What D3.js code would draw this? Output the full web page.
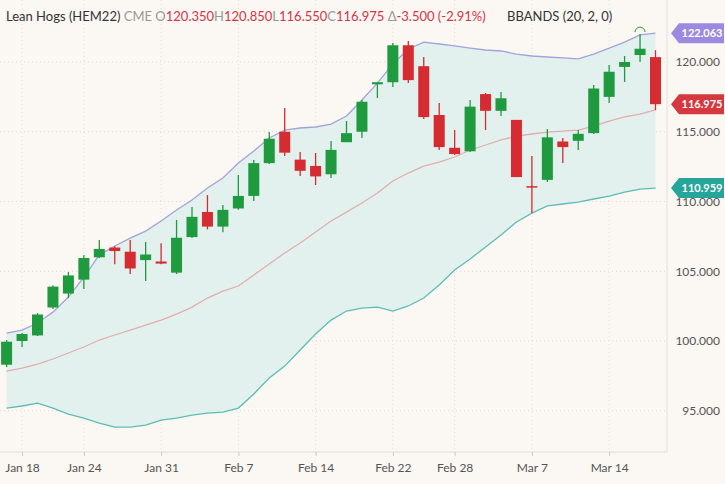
<!DOCTYPE html>
<html><head><meta charset="utf-8">
<script src="https://cdn.jsdelivr.net/npm/d3@7"></script>
<style>body{margin:0;background:#fbf7f2}svg{display:block;font-family:Lato,"Open Sans",sans-serif}</style>
</head><body><svg id="c" width="725" height="484"></svg>
<script>
const open  = [98.3,100.0,100.4,102.4,103.4,104.4,106.0,106.7,106.4,105.8,105.7,104.9,107.45,109.25,108.2,109.5,110.4,112.75,115.0,113.0,112.55,111.95,114.25,115.0,118.4,118.55,121.2,119.7,116.2,113.85,113.6,117.7,116.5,115.85,111.1,111.55,114.3,114.35,114.9,117.5,119.65,120.5,120.35];
const high  = [100.07,100.57,102.0,104.0,104.94,106.16,107.24,106.8,107.24,107.1,107.0,108.67,109.6,110.46,109.75,111.9,112.97,114.98,116.7,113.55,113.48,114.34,115.77,117.28,118.57,121.36,121.5,120.36,117.06,115.12,117.28,117.78,117.85,115.85,113.26,115.2,114.55,115.12,118.35,119.78,120.43,122.0,120.85];
const low   = [98.13,99.57,100.36,102.29,103.08,103.72,105.95,105.5,104.8,104.3,105.5,104.8,107.38,108.0,107.8,109.4,110.03,112.68,113.26,111.83,111.18,111.68,114.26,114.55,117.42,118.2,118.5,115.91,113.69,113.33,113.55,115.12,116.13,111.75,109.17,111.4,112.76,113.69,114.84,117.06,118.57,120.0,116.55];
const close = [99.95,100.5,101.9,103.9,104.7,105.95,106.6,106.45,105.2,106.2,105.55,107.4,108.9,108.2,109.4,110.4,112.75,114.5,113.5,112.2,111.8,113.7,114.9,117.15,118.55,121.2,118.7,116.05,113.9,113.4,116.8,116.5,117.4,111.75,111.0,114.6,113.9,114.85,118.1,119.3,120.0,120.95,116.975];
const upper = [100.57,100.78,101.29,102.07,103.15,104.58,106.16,106.81,107.38,107.88,108.6,109.39,110.11,110.97,111.68,112.76,113.62,114.55,115.12,115.27,115.34,115.55,116.13,117.28,118.49,119.86,120.93,121.43,121.29,121.15,121.0,120.86,120.79,120.57,120.43,120.36,120.29,120.22,120.57,121.0,121.43,121.94,122.063];
const middle= [97.84,98.06,98.35,98.71,99.14,99.57,100.07,100.43,100.78,101.14,101.5,101.93,102.43,103.08,103.58,103.94,104.73,105.52,106.31,107.02,107.81,108.6,109.24,109.89,110.61,111.47,112.04,112.54,112.83,113.19,113.69,114.05,114.41,114.69,114.84,114.98,115.05,115.12,115.41,115.77,116.06,116.27,116.56];
const lower = [95.19,95.34,95.55,95.19,94.76,94.47,94.12,93.83,93.83,93.97,94.33,94.47,94.69,94.83,94.9,95.19,96.2,97.34,98.2,99.35,100.5,101.5,102.15,102.36,102.43,102.15,102.51,103.08,104.01,105.09,105.88,106.74,107.6,108.53,109.17,109.68,109.82,109.96,110.18,110.39,110.68,110.89,110.959];
const xTickIdx = [1,5,10,15,20,25,29,34,39];
const xTickLabels = ["Jan 18","Jan 24","Jan 31","Feb 7","Feb 14","Feb 22","Feb 28","Mar 7","Mar 14"];
const yTicks = [95,100,105,110,115,120];

const svg = d3.select("#c");
const W=725,H=484, plotR=667, axisY=452;
const x = d3.scaleLinear().domain([0,42]).range([6.6,655.5]);
const y = d3.scaleLinear().domain([90,125]).range([480.5,-7.75]);
const idx = d3.range(open.length);
const G="#1f9a3f", R="#d52b31";

svg.append("rect").attr("width",W).attr("height",H).attr("fill","#fbf7f2");
svg.append("g").selectAll("line").data(xTickIdx).join("line")
 .attr("x1",d=>x(d)).attr("x2",d=>x(d)).attr("y1",0).attr("y2",axisY)
 .attr("stroke","#e3ddd6").attr("stroke-dasharray","1,3");
svg.append("g").selectAll("line").data(yTicks).join("line")
 .attr("x1",0).attr("x2",plotR).attr("y1",d=>y(d)).attr("y2",d=>y(d))
 .attr("stroke","#ddd7cf").attr("stroke-dasharray","1,3");
svg.append("path").datum(idx).attr("fill","#dff0ec").attr("opacity",0.9)
 .attr("d",d3.area().x(i=>x(i)).y0(i=>y(lower[i])).y1(i=>y(upper[i])));
const ln=(arr,c)=>svg.append("path").datum(idx).attr("fill","none").attr("stroke",c).attr("stroke-width",1.3)
 .attr("d",d3.line().x(i=>x(i)).y(i=>y(arr[i])));
ln(upper,"#a3a3dc"); ln(middle,"#e2aeae"); ln(lower,"#5dbdb6");
svg.append("line").attr("x1",0).attr("x2",plotR).attr("y1",axisY).attr("y2",axisY).attr("stroke","#ddd");
svg.append("line").attr("x1",plotR).attr("x2",plotR).attr("y1",0).attr("y2",axisY).attr("stroke","#e4e0da");
const xa = svg.append("g").attr("transform",`translate(0,${axisY})`)
 .call(d3.axisBottom(x).tickValues(xTickIdx).tickFormat((d,i)=>xTickLabels[i]).tickSize(4));
xa.select(".domain").remove();
xa.selectAll("line").attr("stroke","#ccc");
xa.selectAll("text").attr("fill","#555").attr("font-size",12).attr("dy","1.1em").attr("font-family","Lato");
const ya = svg.append("g").attr("transform",`translate(720,0)`)
 .call(d3.axisRight(y).tickValues(yTicks).tickFormat(d3.format(".3f")).tickSize(0).tickPadding(0));
ya.select(".domain").remove();
ya.selectAll("text").attr("fill","#555").attr("font-size",12).attr("text-anchor","end").attr("font-family","Lato");
const cg = svg.append("g");
cg.selectAll("line").data(idx).join("line")
 .attr("x1",i=>x(i)).attr("x2",i=>x(i)).attr("y1",i=>y(high[i])).attr("y2",i=>y(low[i]))
 .attr("stroke",i=>close[i]>=open[i]?G:R).attr("stroke-width",1.3);
cg.selectAll("rect").data(idx).join("rect")
 .attr("x",i=>x(i)-5.5).attr("width",11)
 .attr("y",i=>y(Math.max(open[i],close[i])))
 .attr("height",i=>Math.max(1.5,Math.abs(y(open[i])-y(close[i]))))
 .attr("fill",i=>close[i]>=open[i]?G:R);
const hi = d3.maxIndex(high);
svg.append("path").attr("fill","none").attr("stroke",G).attr("stroke-width",1)
 .attr("d",`M${x(hi)-5},${y(high[hi])-2} A5,5 0 0 1 ${x(hi)+5},${y(high[hi])-2}`);
function tag(v,fill,txt){
  const yy=y(v), x0=671;
  svg.append("path").attr("fill",fill)
   .attr("d",`M${x0},${yy} L${x0+8},${yy-10} L${x0+53},${yy-10} L${x0+53},${yy+10} L${x0+8},${yy+10} Z`);
  svg.append("text").attr("x",x0+31).attr("y",yy+4).attr("text-anchor","middle")
   .attr("fill","#fff").attr("font-size",11).attr("font-weight","bold").text(txt);
}
tag(upper[42],"#9b8ae0",d3.format(".3f")(upper[42]));
tag(close[42],"#d63840",d3.format(".3f")(close[42]));
tag(lower[42],"#26a69a",d3.format(".3f")(lower[42]));
const t = svg.append("text").attr("x",6).attr("y",21).attr("font-size",13);
const parts=[["Lean Hogs (HEM22) ","#333"],["CME ","#999"],["O","#999"],["120.350","#d6334a"],["H","#999"],["120.850","#d6334a"],["L","#999"],["116.550","#d6334a"],["C","#999"],["116.975","#d6334a"],[" Δ","#999"],["-3.500 (-2.91%)","#d6334a"]];
parts.forEach(p=>t.append("tspan").attr("fill",p[1]).text(p[0]));
svg.append("text").attr("x",507).attr("y",21).attr("font-size",13).attr("fill","#333").text("BBANDS (20, 2, 0)");
</script></body></html>
